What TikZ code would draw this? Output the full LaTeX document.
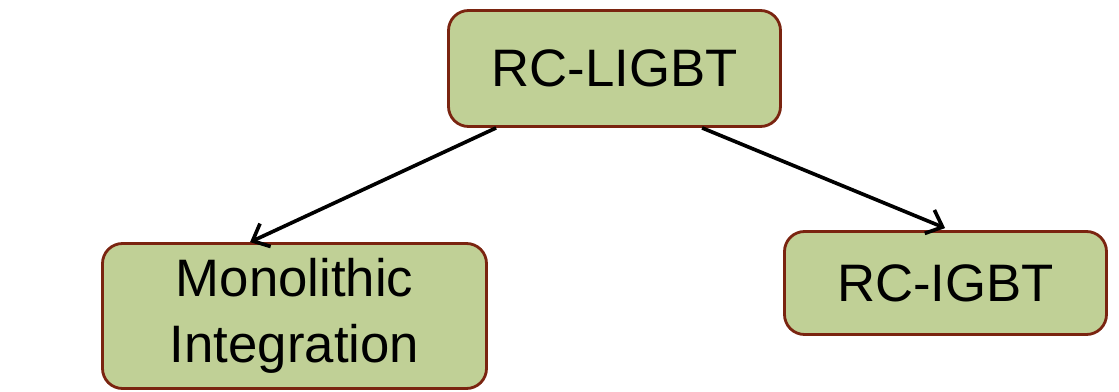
\documentclass[tikz,border=0pt]{standalone}
\usepackage{fontspec}
\setmainfont{Liberation Sans}
\usetikzlibrary{calc,arrows.meta}
\definecolor{boxfill}{RGB}{192,208,150}
\definecolor{boxline}{RGB}{122,36,16}
\tikzset{
    block/.style={draw=boxline, fill=boxfill, line width=2pt, rounded corners=0.5cm,
        inner sep=0pt, align=center, font=\fontsize{37.5}{47}\selectfont},
    link/.style={-{Straight Barb[length=10pt,width=18pt]}, line width=2.6pt, black}
}
\begin{document}
\begin{tikzpicture}[x=0.025cm, y=0.025cm]
        \useasboundingbox (0,0) rectangle (1119,391);
        % Draw boxes
        \node[block, minimum width=332*0.025cm, minimum height=116*0.025cm] (rcligbt) at (614.5,322.5) {RC-LIGBT};
        \node[block, minimum width=384*0.025cm, minimum height=145*0.025cm] (mono) at (294.5,75) {Monolithic\\Integration};
        \node[block, minimum width=322*0.025cm, minimum height=103*0.025cm] (rcigbt) at (945.5,283-175) {RC-IGBT};
        % Draw arrows
        \draw[link] ($(rcligbt.south west)+(49,0)$) -- ($(mono.north west)+(149,0)$);
        \draw[link] ($(rcligbt.south west)+(255,0)$) -- ($(rcigbt.north west)+(162,2)$);
    \end{tikzpicture}
\end{document}
